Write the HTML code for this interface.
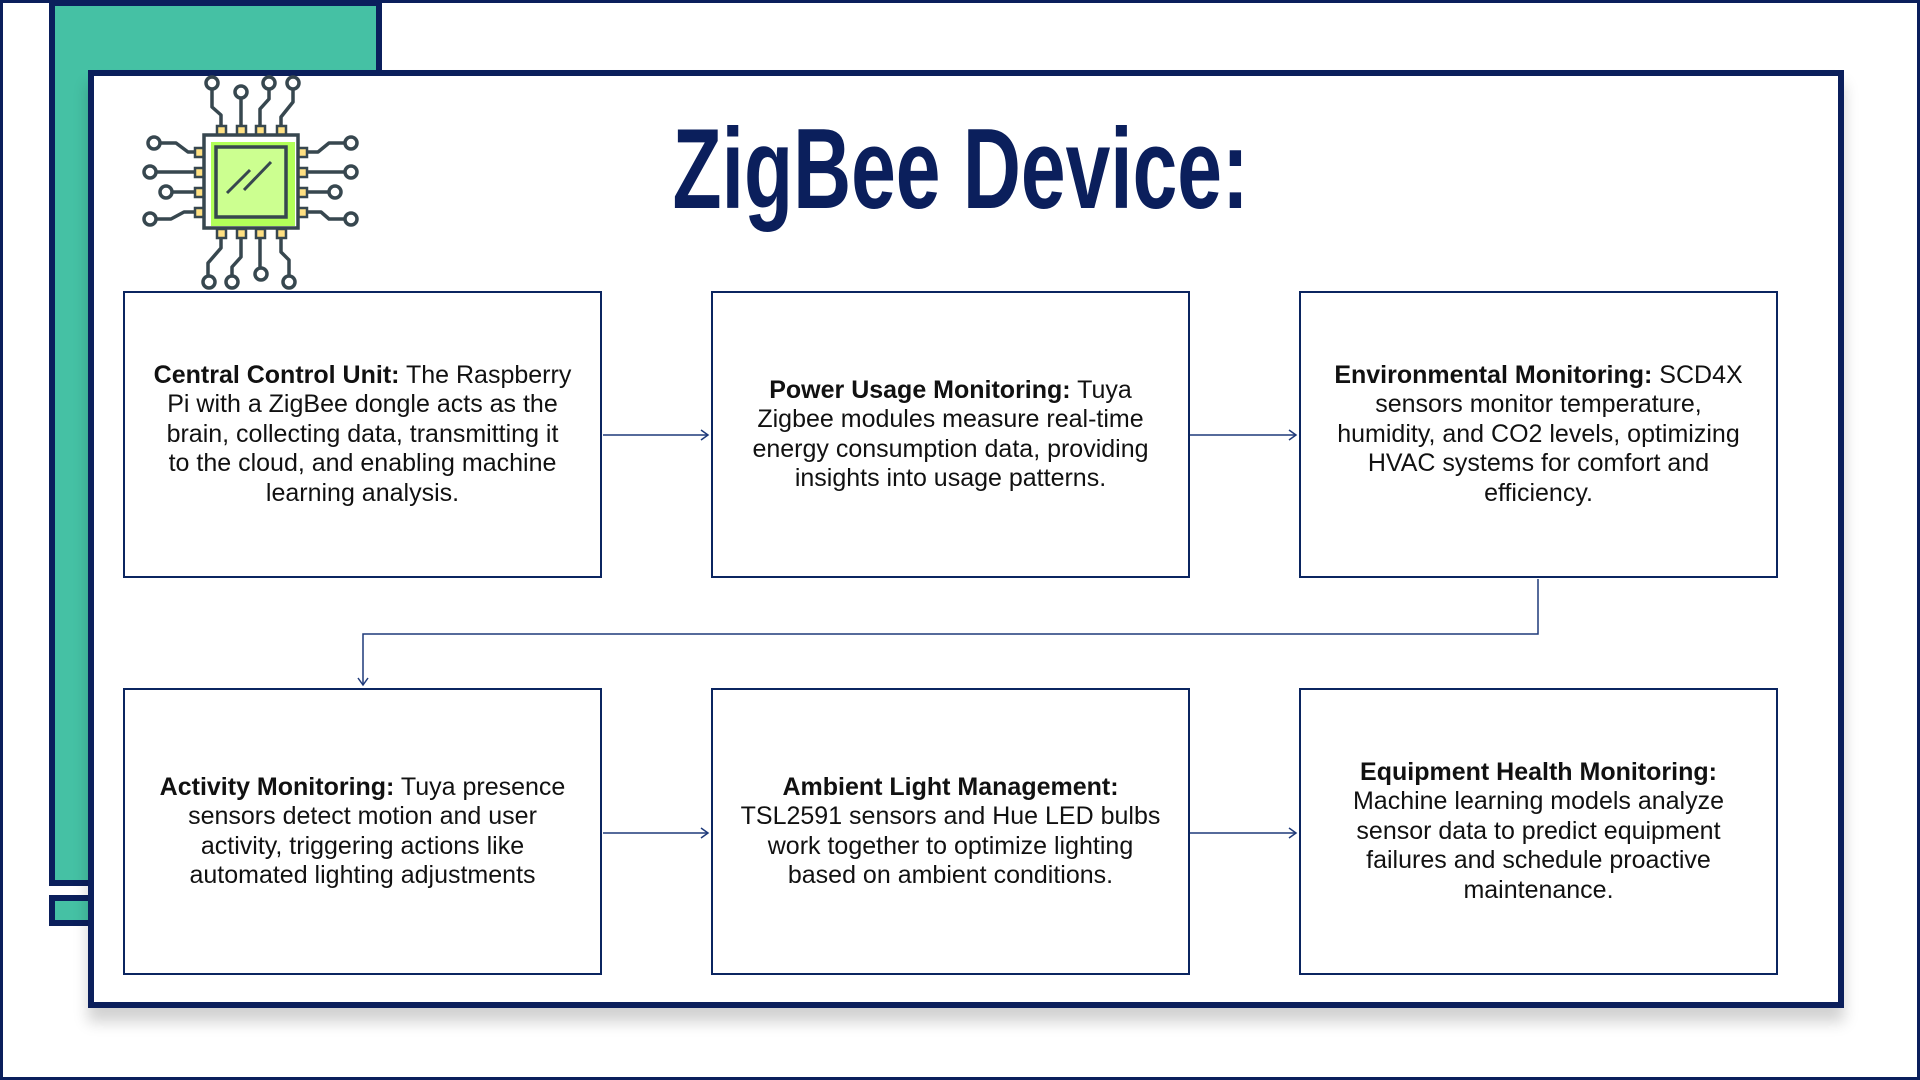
<!DOCTYPE html>
<html><head><meta charset="utf-8">
<style>
*{margin:0;padding:0;box-sizing:border-box}
body{width:1920px;height:1080px;overflow:hidden;background:#fff;position:relative;font-family:"Liberation Sans",sans-serif}
.abs{position:absolute}
.frame{left:0;top:0;width:1920px;height:1080px;border:3px solid #0b1f5c}
.teal{left:49px;top:0;width:333px;height:886px;background:#45c1a4;border:6px solid #0b1f5c}
.teal2{left:49px;top:895px;width:45px;height:31px;background:#45c1a4;border:6px solid #0b1f5c}
.panel{left:88px;top:70px;width:1756px;height:938px;background:#fff;border:6px solid #0b1f5c;box-shadow:0 14px 14px rgba(0,0,0,0.18)}
.title{left:361px;top:113px;width:1200px;text-align:center;font-weight:bold;font-size:114px;color:#0b1f5c;line-height:114px;white-space:nowrap}
.title span{display:inline-block;transform:scaleX(0.705);transform-origin:center}
.box{width:479px;height:287px;border:2px solid #0b2560;display:flex;align-items:center;justify-content:center;text-align:center;font-size:25px;line-height:29.4px;color:#111;white-space:nowrap}
b{font-weight:bold}
</style></head><body>
<div class="abs frame"></div>
<div class="abs teal"></div>
<div class="abs teal2"></div>
<div class="abs panel"></div>
<div class="abs title"><span>ZigBee Device:</span></div>

<svg class="abs" style="left:0;top:0" width="1920" height="1080">
<g fill="none" stroke="#37474f" stroke-width="3.5" stroke-linejoin="round">
<polyline points="221,126 221,115 212,107 212,89"/>
<polyline points="241,126 241,98"/>
<polyline points="260,126 260,109 269,99 269,89"/>
<polyline points="281,126 281,117 293,102 293,89"/>
<circle cx="212" cy="83" r="6"/><circle cx="241" cy="92" r="6"/><circle cx="269" cy="83" r="6"/><circle cx="293" cy="83" r="6"/>
<polyline points="195,152 188,152 176,143 160,143"/>
<polyline points="195,172 156,172"/>
<polyline points="195,192 172,192"/>
<polyline points="195,212 184,212 171,219 156,219"/>
<circle cx="154" cy="143" r="6"/><circle cx="150" cy="172" r="6"/><circle cx="166" cy="192" r="6"/><circle cx="150" cy="219" r="6"/>
<polyline points="307,152 318,152 329,143 345,143"/>
<polyline points="307,172 345,172"/>
<polyline points="307,192 329,192"/>
<polyline points="307,212 321,212 329,219 345,219"/>
<circle cx="351" cy="143" r="6"/><circle cx="351" cy="172" r="6"/><circle cx="335" cy="192" r="6"/><circle cx="351" cy="219" r="6"/>
<polyline points="221,237 221,248 208,263 208,276"/>
<polyline points="241,237 241,257 232,267 232,276"/>
<polyline points="260,237 260,268"/>
<polyline points="281,237 281,252 289,260 289,276"/>
<circle cx="209" cy="282" r="6"/><circle cx="232" cy="282" r="6"/><circle cx="261" cy="274" r="6"/><circle cx="289" cy="282" r="6"/>
</g>
<g fill="#ffe082" stroke="#37474f" stroke-width="2.5">
<rect x="217" y="126" width="9" height="9"/><rect x="237" y="126" width="9" height="9"/><rect x="256" y="126" width="9" height="9"/><rect x="277" y="126" width="9" height="9"/>
<rect x="217" y="229" width="9" height="9"/><rect x="237" y="229" width="9" height="9"/><rect x="256" y="229" width="9" height="9"/><rect x="277" y="229" width="9" height="9"/>
<rect x="195" y="148" width="9" height="9"/><rect x="195" y="168" width="9" height="9"/><rect x="195" y="188" width="9" height="9"/><rect x="195" y="208" width="9" height="9"/>
<rect x="298" y="148" width="9" height="9"/><rect x="298" y="168" width="9" height="9"/><rect x="298" y="188" width="9" height="9"/><rect x="298" y="208" width="9" height="9"/>
</g>
<rect x="204" y="135" width="94" height="93" fill="#fff" stroke="#37474f" stroke-width="3.5"/>
<rect x="211" y="142" width="84" height="84" fill="#b2ff59"/>
<rect x="216" y="147" width="70" height="70" fill="#ccff90" stroke="#37474f" stroke-width="3.5"/>
<line x1="227" y1="193" x2="250" y2="170" stroke="#37474f" stroke-width="3"/>
<line x1="244" y1="190" x2="271" y2="162" stroke="#37474f" stroke-width="3"/>

<g stroke="#1f3a7a" stroke-width="1.5" fill="none">
<line x1="603" y1="435" x2="708" y2="435"/><polyline points="701,430 708,435 701,440"/>
<line x1="1190" y1="435" x2="1296" y2="435"/><polyline points="1289,430 1296,435 1289,440"/>
<line x1="603" y1="833" x2="708" y2="833"/><polyline points="701,828 708,833 701,838"/>
<line x1="1190" y1="833" x2="1296" y2="833"/><polyline points="1289,828 1296,833 1289,838"/>
<polyline points="1538,579 1538,634 363,634 363,685"/><polyline points="358,678 363,685 368,678"/>
</g>
</svg>

<div class="abs box" style="left:123px;top:291px"><div><b>Central Control Unit:</b> The Raspberry<br>Pi with a ZigBee dongle acts as the<br>brain, collecting data, transmitting it<br>to the cloud, and enabling machine<br>learning analysis.</div></div>
<div class="abs box" style="left:711px;top:291px"><div><b>Power Usage Monitoring:</b> Tuya<br>Zigbee modules measure real-time<br>energy consumption data, providing<br>insights into usage patterns.</div></div>
<div class="abs box" style="left:1299px;top:291px"><div><b>Environmental Monitoring:</b> SCD4X<br>sensors monitor temperature,<br>humidity, and CO2 levels, optimizing<br>HVAC systems for comfort and<br>efficiency.</div></div>
<div class="abs box" style="left:123px;top:688px"><div><b>Activity Monitoring:</b> Tuya presence<br>sensors detect motion and user<br>activity, triggering actions like<br>automated lighting adjustments</div></div>
<div class="abs box" style="left:711px;top:688px"><div><b>Ambient Light Management:</b><br>TSL2591 sensors and Hue LED bulbs<br>work together to optimize lighting<br>based on ambient conditions.</div></div>
<div class="abs box" style="left:1299px;top:688px"><div><b>Equipment Health Monitoring:</b><br>Machine learning models analyze<br>sensor data to predict equipment<br>failures and schedule proactive<br>maintenance.</div></div>
</body></html>
